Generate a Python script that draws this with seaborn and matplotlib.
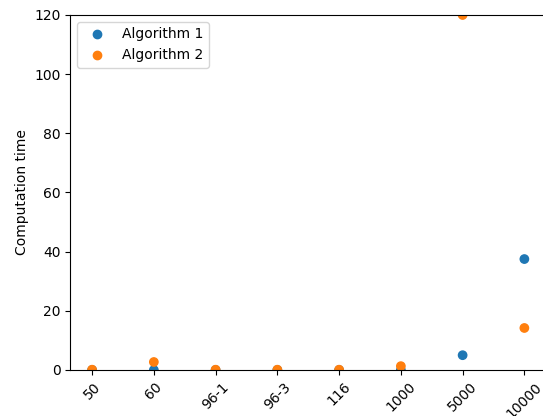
import pandas as pd
import matplotlib
matplotlib.use("Agg")
import matplotlib.pyplot as plt
import seaborn as sns

# data
sizes = ["50", "60", "96-1", "96-3", "116", "1000", "5000", "10000"]
algo1_time = [0.0, 0.0, 0.0, 0.0, 0.0, 0.0, 5.0, 37.5]
algo2_time = [0.1, 2.7, 0.1, 0.1, 0.1, 1.3, 120.0, 14.2]
y_ticks = [0, 20, 40, 60, 80, 100, 120]

df = pd.concat([
    pd.DataFrame({"size": sizes, "time": algo1_time, "algorithm": "Algorithm 1"}),
    pd.DataFrame({"size": sizes, "time": algo2_time, "algorithm": "Algorithm 2"}),
])

fig = plt.figure(figsize=(5.43, 4.16), dpi=100)
ax = fig.add_axes([0.1298, 0.1106, 0.8757, 0.8534])

sns.scatterplot(data=df, x="size", y="time", hue="algorithm",
                palette=["#1f77b4", "#ff7f0e"], s=36,
                edgecolor="face", linewidth=1.0, ax=ax)

ax.set_ylim(0, 120)
ax.set_yticks(y_ticks)
ax.set_xlabel("")
ax.set_ylabel("Computation time")
ax.tick_params(axis="x", rotation=45)
sns.move_legend(ax, "upper left", title=None, handletextpad=0.8)

fig.savefig("out.png", dpi=100)
plt.close(fig)
